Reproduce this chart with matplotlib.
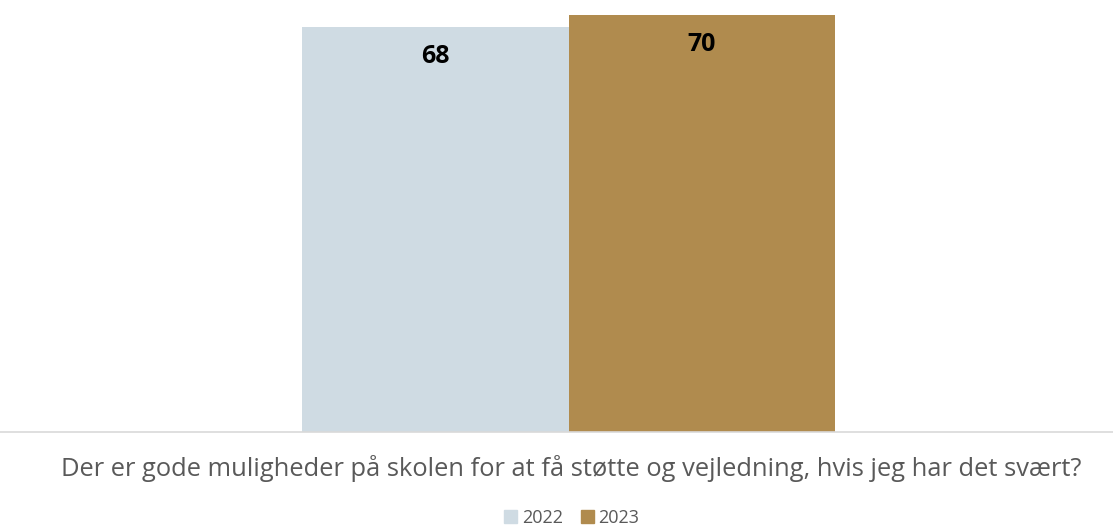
import matplotlib
matplotlib.use("Agg")
import matplotlib.pyplot as plt
from matplotlib.patches import Patch

categories = ["Der er gode muligheder på skolen for at få støtte og vejledning, hvis jeg har det svært?"]
years = ["2022", "2023"]
values_2022 = [68]
values_2023 = [70]
colors = ["#cfdbe3", "#b08b4e"]

plt.rcParams['font.family'] = ['Open Sans', 'DejaVu Sans']

fig = plt.figure(figsize=(11.13, 5.29), dpi=100)
ax = fig.add_axes([0, 1 - 432 / 529, 1, 432 / 529])

w = 0.2395
x0 = 0
b1 = ax.bar(x0 - w / 2, values_2022[0], width=w, color=colors[0])
b2 = ax.bar(x0 + w / 2, values_2023[0], width=w, color=colors[1])

for bars, vals in ((b1, values_2022), (b2, values_2023)):
    for r, v in zip(bars, vals):
        ax.annotate(str(v), (r.get_x() + r.get_width() / 2, v), xytext=(0, -21),
                    textcoords="offset points", ha="center", va="center",
                    fontsize=18, fontweight="bold", color="black")

ax.set_xlim(-0.511, 0.489)
ax.set_ylim(0, 72.6)
for s in ("top", "left", "right"):
    ax.spines[s].set_visible(False)
ax.spines["bottom"].set_color("#d9d9d9")
ax.spines["bottom"].set_linewidth(1.2)
ax.set_yticks([])
ax.set_xticks([])

fig.text(571 / 1113, 1 - 468 / 529, categories[0], ha="center", va="center",
         fontsize=18.4, color="#595959")

handles = [Patch(color=c, label=y) for c, y in zip(colors, years)]
fig.legend(handles=handles, loc="center", bbox_to_anchor=(572 / 1113, 1 - 518 / 529),
           ncol=2, frameon=False, fontsize=13, labelcolor="#595959",
           handlelength=0.72, handleheight=0.72, handletextpad=0.25, columnspacing=1.0,
           borderpad=0, borderaxespad=0)

fig.savefig("out.png", dpi=100)
